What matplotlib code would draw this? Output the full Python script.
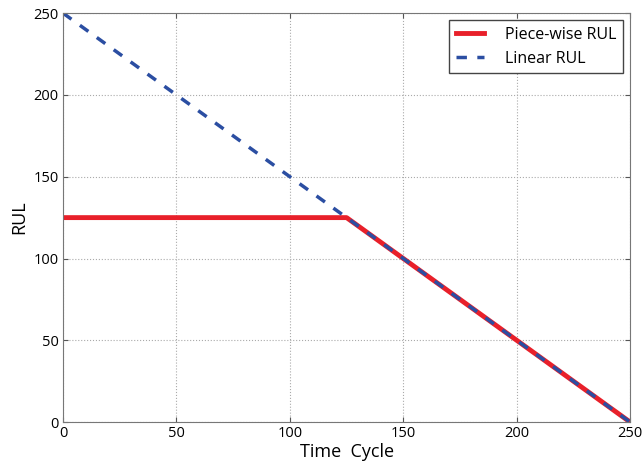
import matplotlib
matplotlib.use('Agg')
import matplotlib.pyplot as plt

# breakpoints of the two RUL curves
piece_x = [0, 125, 250]
piece_y = [125, 125, 0]
linear_x = [0, 250]
linear_y = [250, 0]

plt.rcParams['font.family'] = ['Open Sans', 'DejaVu Sans']

fig = plt.figure(figsize=(6.43, 4.69), dpi=100)
ax = fig.add_axes([0.098, 0.1, 0.882, 0.872])

ax.plot(piece_x, piece_y, color='#e8202a', lw=3.5, label='Piece-wise RUL')
ax.plot(linear_x, linear_y, '--', color='#2b4ea2', lw=2.5, dashes=(3, 3), label='Linear RUL')

ax.set_xlim(0, 250)
ax.set_ylim(0, 250)
ax.set_xticks([0, 50, 100, 150, 200, 250])
ax.set_yticks([0, 50, 100, 150, 200, 250])
ax.grid(True, linestyle=':', color='#aaaaaa', lw=0.8)
ax.tick_params(direction='in', top=True, right=True, labelsize=10.5, color='#555555', pad=3)
for s in ax.spines.values():
    s.set_color('#777777')

ax.set_xlabel('Time  Cycle', fontsize=13, labelpad=1)
ax.set_ylabel('RUL', fontsize=13, labelpad=4)

leg = ax.legend(loc='upper right', fontsize=11.5, fancybox=False, framealpha=1,
                handlelength=1.8, handletextpad=1.3, borderaxespad=0.45)
leg.get_frame().set_edgecolor('#444444')

fig.savefig('out.png', dpi=100)
